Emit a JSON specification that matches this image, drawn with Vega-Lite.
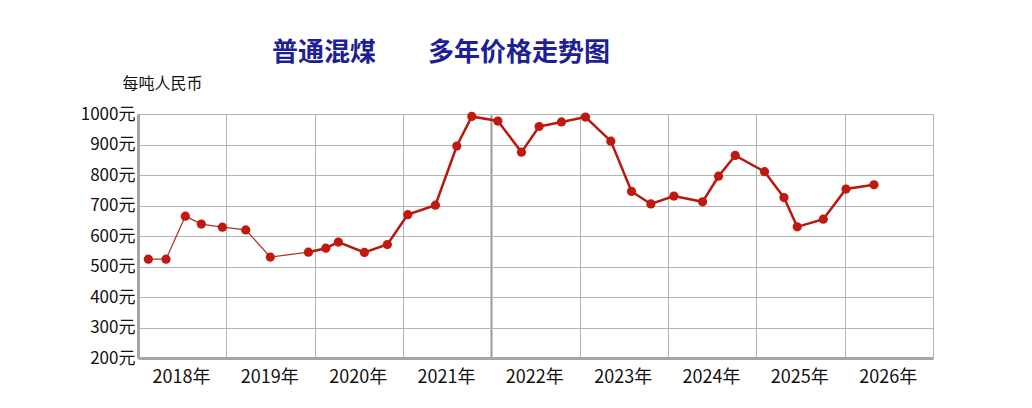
{
  "$schema": "https://vega.github.io/schema/vega-lite/v6.json",
  "autosize": {"type": "none"},
  "padding": {"left": 138, "top": 114, "right": 99, "bottom": 50},
  "width": 795,
  "height": 244,
  "background": "white",
  "title": {
    "text": "普通混煤　　多年价格走势图",
    "anchor": "start",
    "frame": "group",
    "dx": 134,
    "dy": 29,
    "fontSize": 26,
    "fontWeight": "bold",
    "font": "Noto Sans CJK SC",
    "color": "#1e1e96",
    "baseline": "bottom",
    "offset": 12
  },
  "config": {
    "font": "Noto Sans CJK SC",
    "view": {"stroke": null},
    "axis": {
      "domainColor": "#a6a6a6",
      "domainWidth": 3,
      "gridColor": "#b4b4b4",
      "gridWidth": 1,
      "ticks": false,
      "labelColor": "#111111",
      "labelFontSize": 17,
      "labelFont": "Noto Sans CJK SC"
    }
  },
  "data": {
    "values": [
      {"i": 1, "year": 2018.117, "price": 524},
      {"i": 2, "year": 2018.317, "price": 524},
      {"i": 3, "year": 2018.536, "price": 665},
      {"i": 4, "year": 2018.717, "price": 639},
      {"i": 5, "year": 2018.955, "price": 629},
      {"i": 6, "year": 2019.22, "price": 620},
      {"i": 7, "year": 2019.498, "price": 531},
      {"i": 8, "year": 2019.929, "price": 547},
      {"i": 9, "year": 2020.126, "price": 560},
      {"i": 10, "year": 2020.268, "price": 580},
      {"i": 11, "year": 2020.563, "price": 546},
      {"i": 12, "year": 2020.823, "price": 572},
      {"i": 13, "year": 2021.054, "price": 670},
      {"i": 14, "year": 2021.367, "price": 701},
      {"i": 15, "year": 2021.609, "price": 895},
      {"i": 16, "year": 2021.779, "price": 992},
      {"i": 17, "year": 2022.074, "price": 977},
      {"i": 18, "year": 2022.341, "price": 875},
      {"i": 19, "year": 2022.541, "price": 959},
      {"i": 20, "year": 2022.794, "price": 974},
      {"i": 21, "year": 2023.066, "price": 990},
      {"i": 22, "year": 2023.353, "price": 911},
      {"i": 23, "year": 2023.587, "price": 746},
      {"i": 24, "year": 2023.806, "price": 705},
      {"i": 25, "year": 2024.067, "price": 731},
      {"i": 26, "year": 2024.391, "price": 712},
      {"i": 27, "year": 2024.572, "price": 796},
      {"i": 28, "year": 2024.761, "price": 864},
      {"i": 29, "year": 2025.093, "price": 811},
      {"i": 30, "year": 2025.313, "price": 726},
      {"i": 31, "year": 2025.463, "price": 630},
      {"i": 32, "year": 2025.758, "price": 655},
      {"i": 33, "year": 2026.015, "price": 754},
      {"i": 34, "year": 2026.332, "price": 768}
    ]
  },
  "encoding": {
    "x": {
      "field": "year",
      "type": "quantitative",
      "scale": {"domain": [2018, 2027], "nice": false, "zero": false},
      "axis": {
        "title": null,
        "values": [2018, 2019, 2020, 2021, 2022, 2023, 2024, 2025, 2026, 2027],
        "labelExpr": "datum.value >= 2027 ? '' : datum.value + '年'",
        "labelOffset": 43,
        "labelAlign": "center",
        "labelBaseline": "top",
        "labelPadding": 10,
        "labelFontSize": 18,
        "labelFlush": false,
        "labelOverlap": false,
        "gridWidth": {"expr": "datum.value == 2022 ? 2 : 1"},
        "gridColor": {"expr": "datum.value == 2022 ? '#9a9a9a' : '#b4b4b4'"}
      }
    },
    "y": {
      "field": "price",
      "type": "quantitative",
      "scale": {"domain": [200, 1000], "nice": false, "zero": false},
      "axis": {
        "values": [200, 300, 400, 500, 600, 700, 800, 900, 1000],
        "labelExpr": "datum.value + '元'",
        "labelPadding": 3,
        "labelOverlap": false,
        "labelFlush": false,
        "title": "每吨人民币",
        "titleAngle": 0,
        "titleX": -16,
        "titleY": -31,
        "titleAlign": "left",
        "titleBaseline": "middle",
        "titleFontSize": 16,
        "titleFontWeight": "normal",
        "titleColor": "#111111",
        "titleFont": "Noto Sans CJK SC"
      }
    }
  },
  "layer": [
    {
      "transform": [{"filter": "datum.i <= 8"}],
      "mark": {"type": "line", "color": "#b0302a", "strokeWidth": 1.2}
    },
    {
      "transform": [{"filter": "datum.i >= 8"}],
      "mark": {"type": "line", "color": "#b8170e", "strokeWidth": 2.5}
    },
    {
      "mark": {"type": "point", "filled": true, "color": "#c01a10", "opacity": 1, "size": 85}
    }
  ]
}
